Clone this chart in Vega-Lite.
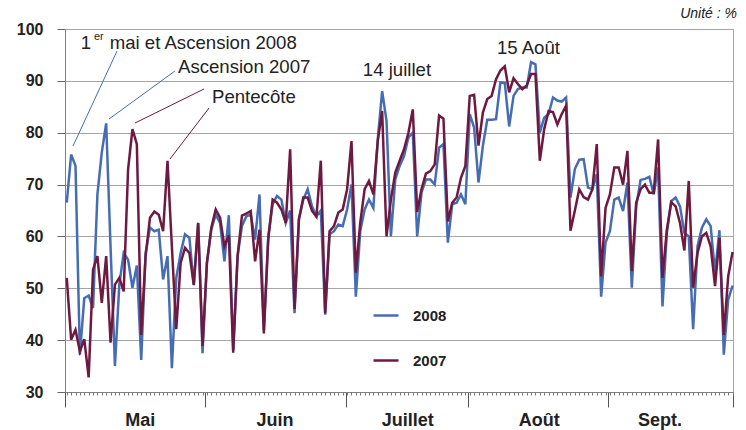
{
  "$schema": "https://vega.github.io/schema/vega-lite/v6.json",
  "width": 668,
  "height": 363,
  "autosize": {"type": "none"},
  "padding": {"left": 65, "top": 29, "right": 13, "bottom": 38},
  "background": "white",
  "config": {"view": {"stroke": "#a6a6a6", "strokeWidth": 1}, "font": "Liberation Sans"},
  "resolve": {"axis": {"x": "independent"}},
  "datasets": {
    "serie": [
      {"jour":0,"2008":66.5,"2007":52.0},{"jour":1,"2008":75.8,"2007":40.1},{"jour":2,"2008":73.6,"2007":42.0},{"jour":3,"2008":37.2,"2007":37.8},{"jour":4,"2008":48.1,"2007":40.2},{"jour":5,"2008":48.6,"2007":32.8},{"jour":6,"2008":46.2,"2007":53.6},{"jour":7,"2008":68.1,"2007":56.2},{"jour":8,"2008":76.2,"2007":47.2},{"jour":9,"2008":81.8,"2007":56.2},
      {"jour":10,"2008":58.0,"2007":39.5},{"jour":11,"2008":35.0,"2007":50.7},{"jour":12,"2008":50.7,"2007":52.0},{"jour":13,"2008":56.8,"2007":49.4},{"jour":14,"2008":55.5,"2007":72.9},{"jour":15,"2008":50.1,"2007":80.7},{"jour":16,"2008":54.4,"2007":77.8},{"jour":17,"2008":36.2,"2007":41.0},{"jour":18,"2008":56.8,"2007":56.2},{"jour":19,"2008":61.7,"2007":63.6},
      {"jour":20,"2008":61.0,"2007":64.8},{"jour":21,"2008":61.3,"2007":64.2},{"jour":22,"2008":51.7,"2007":61.0},{"jour":23,"2008":56.2,"2007":74.6},{"jour":24,"2008":34.6,"2007":58.0},{"jour":25,"2008":52.0,"2007":42.1},{"jour":26,"2008":56.8,"2007":54.9},{"jour":27,"2008":60.4,"2007":57.8},{"jour":28,"2008":59.7,"2007":56.8},{"jour":29,"2008":50.7,"2007":50.6},
      {"jour":30,"2008":62.6,"2007":62.6},{"jour":31,"2008":37.5,"2007":38.9},{"jour":32,"2008":54.9,"2007":54.9},{"jour":33,"2008":61.3,"2007":61.7},{"jour":34,"2008":64.2,"2007":65.2},{"jour":35,"2008":62.6,"2007":63.6},{"jour":36,"2008":55.2,"2007":58.1},{"jour":37,"2008":64.1,"2007":60.2},{"jour":38,"2008":38.1,"2007":37.6},{"jour":39,"2008":56.2,"2007":56.2},
      {"jour":40,"2008":62.0,"2007":64.0},{"jour":41,"2008":63.9,"2007":64.4},{"jour":42,"2008":64.2,"2007":64.9},{"jour":43,"2008":59.4,"2007":55.2},{"jour":44,"2008":68.1,"2007":61.3},{"jour":45,"2008":42.0,"2007":41.3},{"jour":46,"2008":60.0,"2007":59.4},{"jour":47,"2008":66.2,"2007":67.1},{"jour":48,"2008":67.8,"2007":66.5},{"jour":49,"2008":67.1,"2007":65.2},
      {"jour":50,"2008":62.6,"2007":62.6},{"jour":51,"2008":65.0,"2007":76.8},{"jour":52,"2008":45.2,"2007":46.0},{"jour":53,"2008":63.3,"2007":63.3},{"jour":54,"2008":67.1,"2007":67.5},{"jour":55,"2008":69.1,"2007":67.5},{"jour":56,"2008":65.8,"2007":64.9},{"jour":57,"2008":63.9,"2007":63.8},{"jour":58,"2008":65.0,"2007":74.6},{"jour":59,"2008":44.9,"2007":45.2},
      {"jour":60,"2008":60.4,"2007":61.0},{"jour":61,"2008":61.0,"2007":62.0},{"jour":62,"2008":62.3,"2007":64.6},{"jour":63,"2008":62.0,"2007":65.2},{"jour":64,"2008":65.2,"2007":69.1},{"jour":65,"2008":70.0,"2007":78.4},{"jour":66,"2008":48.4,"2007":53.0},{"jour":67,"2008":61.0,"2007":62.6},{"jour":68,"2008":65.2,"2007":69.1},{"jour":69,"2008":67.1,"2007":70.7},
      {"jour":70,"2008":65.5,"2007":68.1},{"jour":71,"2008":78.7,"2007":78.4},{"jour":72,"2008":88.0,"2007":84.2},{"jour":73,"2008":82.3,"2007":60.0},{"jour":74,"2008":60.0,"2007":67.1},{"jour":75,"2008":71.0,"2007":72.3},{"jour":76,"2008":73.6,"2007":74.6},{"jour":77,"2008":75.5,"2007":76.8},{"jour":78,"2008":79.1,"2007":80.0},{"jour":79,"2008":80.0,"2007":84.5},
      {"jour":80,"2008":60.0,"2007":64.7},{"jour":81,"2008":68.5,"2007":69.2},{"jour":82,"2008":71.0,"2007":72.1},{"jour":83,"2008":71.0,"2007":72.6},{"jour":84,"2008":70.0,"2007":73.9},{"jour":85,"2008":77.1,"2007":83.3},{"jour":86,"2008":77.8,"2007":82.7},{"jour":87,"2008":58.8,"2007":62.9},{"jour":88,"2008":66.2,"2007":66.5},{"jour":89,"2008":66.5,"2007":67.5},
      {"jour":90,"2008":68.1,"2007":71.3},{"jour":91,"2008":66.2,"2007":73.6},{"jour":92,"2008":83.6,"2007":87.1},{"jour":93,"2008":81.0,"2007":87.3},{"jour":94,"2008":70.4,"2007":77.5},{"jour":95,"2008":77.5,"2007":83.9},{"jour":96,"2008":82.5,"2007":86.5},{"jour":97,"2008":82.5,"2007":87.1},{"jour":98,"2008":82.6,"2007":90.3},{"jour":99,"2008":89.7,"2007":92.0},
      {"jour":100,"2008":89.6,"2007":92.8},{"jour":101,"2008":81.2,"2007":87.8},{"jour":102,"2008":87.1,"2007":90.5},{"jour":103,"2008":88.4,"2007":89.4},{"jour":104,"2008":88.7,"2007":88.4},{"jour":105,"2008":88.7,"2007":89.1},{"jour":106,"2008":93.6,"2007":91.3},{"jour":107,"2008":93.2,"2007":91.3},{"jour":108,"2008":80.0,"2007":74.6},{"jour":109,"2008":82.9,"2007":80.7},
      {"jour":110,"2008":83.6,"2007":84.2},{"jour":111,"2008":86.8,"2007":84.0},{"jour":112,"2008":86.2,"2007":81.6},{"jour":113,"2008":86.0,"2007":83.6},{"jour":114,"2008":86.8,"2007":85.2},{"jour":115,"2008":67.5,"2007":61.1},{"jour":116,"2008":73.0,"2007":65.0},{"jour":117,"2008":74.8,"2007":69.1},{"jour":118,"2008":74.9,"2007":67.6},{"jour":119,"2008":69.4,"2007":67.1},
      {"jour":120,"2008":69.1,"2007":69.1},{"jour":121,"2008":72.0,"2007":77.8},{"jour":122,"2008":48.4,"2007":52.3},{"jour":123,"2008":58.8,"2007":65.5},{"jour":124,"2008":61.0,"2007":68.1},{"jour":125,"2008":67.1,"2007":73.3},{"jour":126,"2008":67.5,"2007":73.3},{"jour":127,"2008":64.9,"2007":70.0},{"jour":128,"2008":70.4,"2007":76.5},{"jour":129,"2008":50.1,"2007":53.3},
      {"jour":130,"2008":65.8,"2007":66.5},{"jour":131,"2008":70.9,"2007":69.1},{"jour":132,"2008":71.1,"2007":70.0},{"jour":133,"2008":71.5,"2007":68.4},{"jour":134,"2008":68.1,"2007":68.4},{"jour":135,"2008":73.3,"2007":78.7},{"jour":136,"2008":46.5,"2007":52.0},{"jour":137,"2008":60.7,"2007":61.3},{"jour":138,"2008":66.8,"2007":66.6},{"jour":139,"2008":67.5,"2007":65.8},
      {"jour":140,"2008":65.8,"2007":62.6},{"jour":141,"2008":60.7,"2007":57.3},{"jour":142,"2008":60.0,"2007":70.7},{"jour":143,"2008":42.1,"2007":50.1},{"jour":144,"2008":58.1,"2007":56.8},{"jour":145,"2008":61.7,"2007":60.0},{"jour":146,"2008":63.3,"2007":60.7},{"jour":147,"2008":62.0,"2007":58.1},{"jour":148,"2008":53.0,"2007":50.4},{"jour":149,"2008":61.2,"2007":59.7},
      {"jour":150,"2008":37.2,"2007":41.0},{"jour":151,"2008":47.8,"2007":52.3},{"jour":152,"2008":50.5,"2007":57.0}
    ],
    "notes": [
      {"jour": 3.2, "taux": 97.3, "texte": "1"},
      {"jour": 9.8, "taux": 97.3, "texte": "mai et Ascension 2008"},
      {"jour": 25.4, "taux": 92.67, "texte": "Ascension 2007"},
      {"jour": 33.16, "taux": 86.9, "texte": "Pentecôte"},
      {"jour": 67.6, "taux": 92.1, "texte": "14 juillet"},
      {"jour": 98.2, "taux": 96.3, "texte": "15 Août"}
    ],
    "exposant": [{"jour": 6.2, "taux": 98.4, "texte": "er"}],
    "unite": [{"jour": 153.0, "taux": 102.9, "texte": "Unité : %"}],
    "reperes": [
      {"jour": 11.47, "taux": 95.75, "jour2": 1.43, "taux2": 77.43, "annee": "2008"},
      {"jour": 24.7, "taux": 91.9, "jour2": 9.65, "taux2": 82.64, "annee": "2008"},
      {"jour": 31.34, "taux": 88.43, "jour2": 15.58, "taux2": 81.87, "annee": "2007"},
      {"jour": 32.48, "taux": 84.76, "jour2": 23.57, "taux2": 74.93, "annee": "2007"}
    ]
  },
  "layer": [
    {
      "data": {"name": "serie"},
      "transform": [{"fold": ["2008", "2007"], "as": ["annee", "taux"]}, {"filter": "datum.annee == '2008'"}],
      "mark": {"type": "line", "strokeWidth": 2.5},
      "encoding": {
        "x": {
          "field": "jour", "type": "quantitative", "title": null,
          "scale": {"domain": [-0.4, 152.1], "nice": false, "zero": false},
          "axis": {
            "orient": "bottom",
            "values": [-0.4, 31.56, 63.75, 91.6, 123.6, 152.1],
            "labels": false,
            "tickSize": 15,
            "tickColor": "#555555",
            "domain": true,
            "domainColor": "#808080",
            "grid": false
          }
        },
        "y": {
          "field": "taux", "type": "quantitative", "title": null,
          "scale": {"domain": [30, 100], "nice": false, "zero": false},
          "axis": {
            "values": [30, 40, 50, 60, 70, 80, 90, 100],
            "grid": true,
            "gridColor": "#a6a6a6",
            "tickSize": 8,
            "tickColor": "#666666",
            "domainColor": "#808080",
            "labelFont": "Liberation Sans",
            "labelFontSize": 16,
            "labelFontWeight": "bold",
            "labelColor": "#222222",
            "labelPadding": 14
          }
        },
        "color": {
          "field": "annee", "type": "nominal",
          "scale": {"domain": ["2008", "2007"], "range": ["#466db4", "#6e1a40"]},
          "legend": {
            "orient": "none", "legendX": 307, "legendY": 272.5, "title": null, "direction": "vertical",
            "symbolType": "stroke", "symbolSize": 625, "symbolStrokeWidth": 2.5,
            "labelFont": "Liberation Sans", "labelFontSize": 15, "labelFontWeight": "bold", "labelColor": "#222222",
            "labelOffset": 13, "rowPadding": 23, "padding": 0
          }
        }
      }
    },
    {
      "data": {"name": "serie"},
      "transform": [{"fold": ["2008", "2007"], "as": ["annee", "taux"]}, {"filter": "datum.annee == '2007'"}],
      "mark": {"type": "line", "strokeWidth": 2.5},
      "encoding": {
        "x": {
          "field": "jour", "type": "quantitative", "title": null,
          "axis": {
            "orient": "bottom",
            "values": [0,1,2,3,4,5,6,7,8,9,10,11,12,13,14,15,16,17,18,19,20,21,22,23,24,25,26,27,28,29,30,31,32,33,34,35,36,37,38,39,40,41,42,43,44,45,46,47,48,49,50,51,52,53,54,55,56,57,58,59,60,61,62,63,64,65,66,67,68,69,70,71,72,73,74,75,76,77,78,79,80,81,82,83,84,85,86,87,88,89,90,91,92,93,94,95,96,97,98,99,100,101,102,103,104,105,106,107,108,109,110,111,112,113,114,115,116,117,118,119,120,121,122,123,124,125,126,127,128,129,130,131,132,133,134,135,136,137,138,139,140,141,142,143,144,145,146,147,148,149,150,151,152],
            "labels": false,
            "tickSize": 3,
            "tickColor": "#777777",
            "domain": false,
            "grid": false
          }
        },
        "y": {"field": "taux", "type": "quantitative", "title": null},
        "color": {"field": "annee", "type": "nominal"}
      }
    },
    {
      "data": {"name": "reperes"},
      "mark": {"type": "rule", "strokeWidth": 1},
      "encoding": {
        "x": {
          "field": "jour", "type": "quantitative", "title": null,
          "axis": {
            "orient": "bottom",
            "values": [16.65, 47.4, 77.75, 107.75, 135.3],
            "labelExpr": "datum.value == 16.65 ? 'Mai' : datum.value == 47.4 ? 'Juin' : datum.value == 77.75 ? 'Juillet' : datum.value == 107.75 ? 'Août' : 'Sept.'",
            "ticks": false,
            "domain": false,
            "grid": false,
            "labelFont": "Liberation Sans",
            "labelFontSize": 18,
            "labelFontWeight": "bold",
            "labelColor": "#222222",
            "labelPadding": 19,
            "labelOverlap": false,
            "labelBound": false,
            "labelFlush": false
          }
        },
        "y": {"field": "taux", "type": "quantitative", "title": null},
        "x2": {"field": "jour2"},
        "y2": {"field": "taux2"},
        "color": {"field": "annee", "type": "nominal"}
      }
    },
    {
      "data": {"name": "notes"},
      "mark": {"type": "text", "align": "left", "baseline": "middle", "font": "Liberation Sans", "fontSize": 18.6, "color": "#222222"},
      "encoding": {
        "x": {"field": "jour", "type": "quantitative", "title": null, "axis": null},
        "y": {"field": "taux", "type": "quantitative", "title": null},
        "text": {"field": "texte"}
      }
    },
    {
      "data": {"name": "exposant"},
      "mark": {"type": "text", "align": "left", "baseline": "middle", "font": "Liberation Sans", "fontSize": 11, "color": "#222222"},
      "encoding": {
        "x": {"field": "jour", "type": "quantitative", "title": null, "axis": null},
        "y": {"field": "taux", "type": "quantitative", "title": null},
        "text": {"field": "texte"}
      }
    },
    {
      "data": {"name": "unite"},
      "mark": {"type": "text", "align": "right", "baseline": "middle", "font": "Liberation Sans", "fontSize": 14, "fontStyle": "italic", "color": "#222222"},
      "encoding": {
        "x": {"field": "jour", "type": "quantitative", "title": null, "axis": null},
        "y": {"field": "taux", "type": "quantitative", "title": null},
        "text": {"field": "texte"}
      }
    }
  ]
}
